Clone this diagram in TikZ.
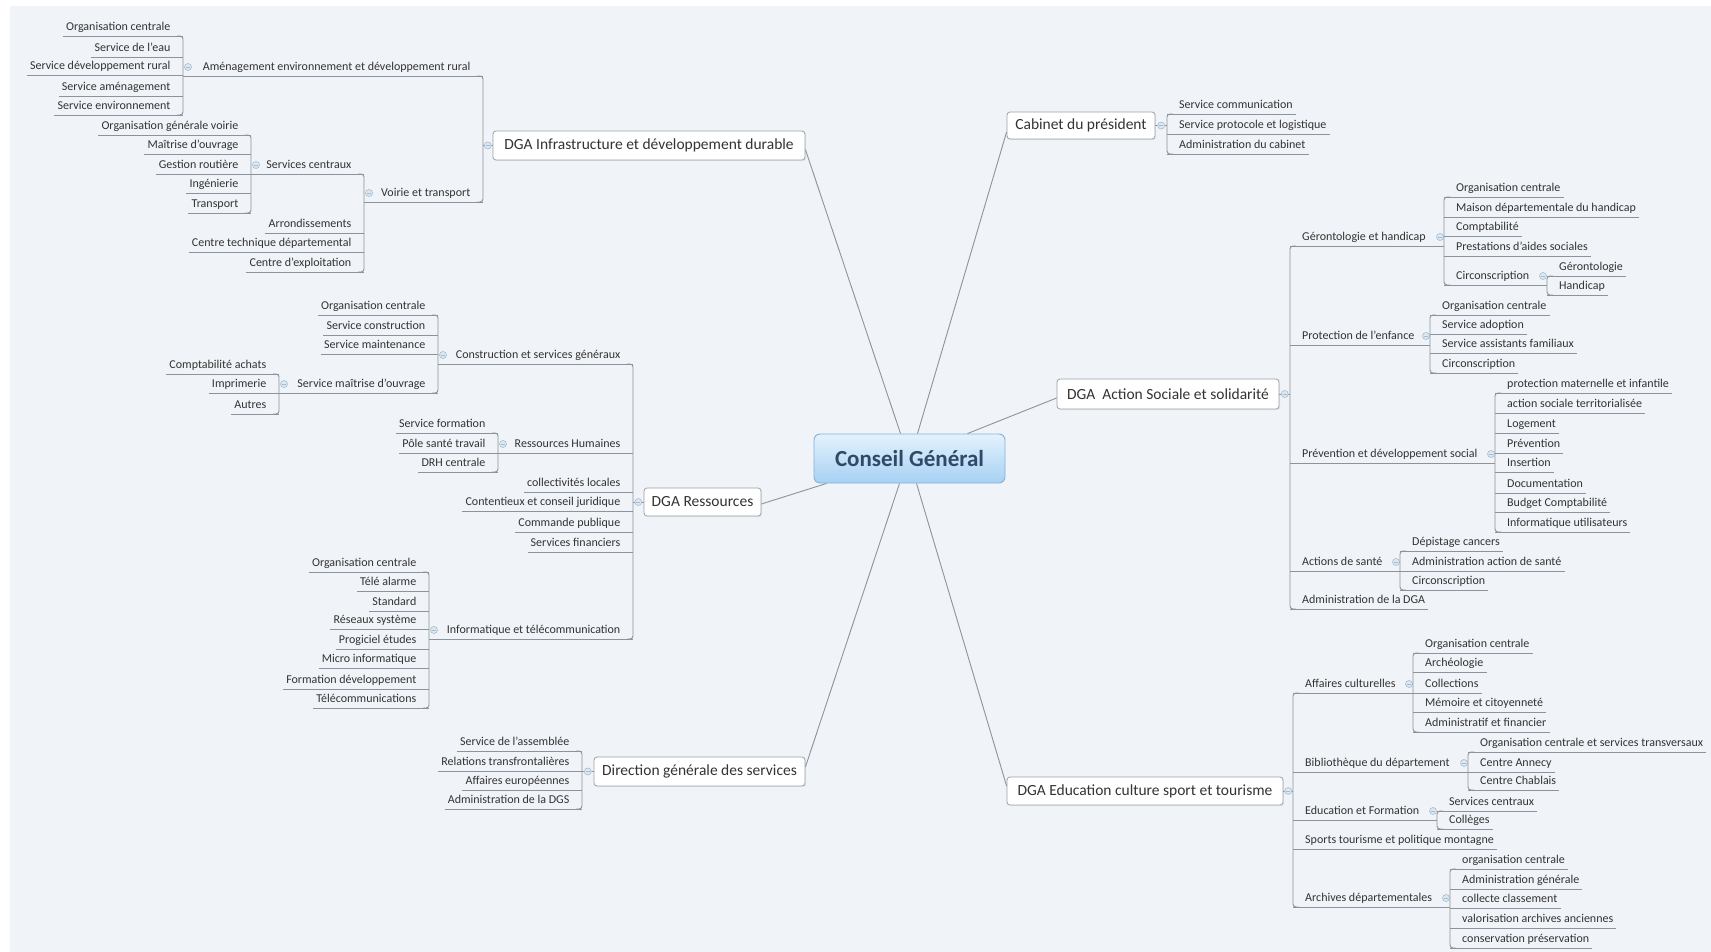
\documentclass[tikz,border=0pt]{standalone}
\usepackage{fontspec}
\setmainfont{Carlito}
\usetikzlibrary{calc,shadows}
\definecolor{canvas}{HTML}{F0F3F7}
\definecolor{branch}{HTML}{8C939A}
\definecolor{label}{HTML}{333333}
\definecolor{frame}{HTML}{9AA3AB}
\definecolor{foldline}{HTML}{A3BCD3}
\definecolor{foldfill}{HTML}{DDE8F2}
\definecolor{rootink}{HTML}{2E4A66}
\definecolor{roottop}{HTML}{E4F2FD}
\definecolor{rootbot}{HTML}{A6D1F3}
\definecolor{rootframe}{HTML}{82B1DA}
% vertical trunk joining the first and last child of a branch
\newcommand{\trunk}[4]{\draw[link,rounded corners=3pt]
  ($(#2.south -| #1)+(#4,0)$) -- (#2.south -| #1) -- (#3.south -| #1) -- ($(#3.south -| #1)+(#4,0)$);}

\begin{document}
\begin{tikzpicture}[x=1pt,y=-1pt,
 link/.style={draw=branch,line width=.9pt},
 sub/.style={font=\fontsize{12}{14}\selectfont,text=label,inner xsep=3pt,inner ysep=2.3pt,
   text height=9pt,text depth=3pt},
 lsub/.style={sub,anchor=south east},
 rsub/.style={sub,anchor=south west},
 mainbox/.style={draw=frame,fill=white,rounded corners=3pt,line width=.8pt,
   font=\fontsize{15.5}{18}\selectfont,text=label,inner sep=0pt,
   drop shadow={opacity=.12,shadow xshift=1.2pt,shadow yshift=-1.2pt}},
 root/.style={draw=rootframe,line width=.9pt,rounded corners=6pt,top color=roottop,
   bottom color=rootbot,minimum width=191pt,minimum height=49pt,
   font=\fontsize{23}{26}\selectfont\bfseries,text=rootink},
 fold/.style={circle,draw=foldline,fill=foldfill,line width=.6pt,inner sep=0pt,minimum size=7pt,
   path picture={\draw[foldline,line width=.8pt] ([xshift=-2pt]path picture bounding box.center)
     -- ([xshift=2pt]path picture bounding box.center);}}]
\path[use as bounding box] (0,0) rectangle (1711,952);
\fill[white] (0,0) rectangle (1711,952);
\fill[canvas] (10,6) rectangle (1711,952);

% central topic and the six main branches
\node[root] (cg) at (909.5,458.5) {Conseil Général};
\node[mainbox,minimum width=312pt,minimum height=29pt] (infra) at (649,145.5) {DGA Infrastructure et développement durable};
\node[mainbox,minimum width=117pt,minimum height=28pt] (res) at (702.5,502) {DGA Ressources};
\node[mainbox,minimum width=211pt,minimum height=29pt] (dgs) at (699.5,771.5) {Direction générale des services};
\node[mainbox,minimum width=148pt,minimum height=27pt] (cab) at (1081,125.5) {Cabinet du président};
\node[mainbox,minimum width=222pt,minimum height=30pt] (as) at (1168,394) {DGA\ \ Action Sociale et solidarité};
\node[mainbox,minimum width=276pt,minimum height=28pt] (edu) at (1145,791) {DGA Education culture sport et tourisme};
\draw[link] ([xshift=-9pt]cg.north) -- ([yshift=-4pt]infra.east);
\draw[link] ([xshift=8pt]cg.north) -- ([yshift=-6.5pt]cab.west);
\draw[link] ([xshift=-38pt]cg.north east) -- ([yshift=-4pt]as.west);
\draw[link] ([xshift=13pt]cg.south west) -- ([yshift=-2pt]res.east);
\draw[link] ([xshift=-10pt]cg.south) -- ([yshift=4.5pt]dgs.east);
\draw[link] ([xshift=7pt]cg.south) -- ([yshift=5pt]edu.west);

% ---- infrastructure (left)
\coordinate (infraV) at (483,0);
\coordinate (aedrV) at (183,0);
\coordinate (voirV) at (364,0);
\coordinate (scV) at (251,0);
\node[lsub] (aedr) at (473.5,76) {Aménagement environnement et développement rural};
\node[lsub] (voir) at (473.5,202) {Voirie et transport};
\node[lsub] (sc) at (354.5,174) {Services centraux};
\foreach \n/\y/\t in {aOrg/36/Organisation centrale,aEau/57/Service de l'eau,
  aRur/75/Service développement rural,aAme/96/Service aménagement,aEnv/115/Service environnement}{
  \node[lsub] (\n) at (173.5,\y) {\t};
  \draw[link] (\n.south west) -- (\n.south -| aedrV);}
\foreach \n/\y/\t in {tArr/233/Arrondissements,tCtd/252/Centre technique départemental,
  tCex/272/Centre d'exploitation}{
  \node[lsub] (\n) at (354.5,\y) {\t};
  \draw[link] (\n.south west) -- (\n.south -| voirV);}
\foreach \n/\y/\t in {sOgv/135/Organisation générale voirie,sMo/154/Maîtrise d'ouvrage,
  sGr/174/Gestion routière,sIng/193/Ingénierie,sTr/213/Transport}{
  \node[lsub] (\n) at (241.5,\y) {\t};
  \draw[link] (\n.south west) -- (\n.south -| scV);}
\draw[link] (aedr.south -| aedrV) -- (aedr.south -| infraV);
\draw[link] (voir.south -| voirV) -- (voir.south -| infraV);
\draw[link] (sc.south -| scV) -- (sc.south -| voirV);
\draw[link] (infra.west) -- (infra.west -| infraV);
\trunk{infraV}{aedr}{voir}{-6}
\trunk{aedrV}{aOrg}{aEnv}{-6}
\trunk{voirV}{sc}{tCex}{-6}
\trunk{scV}{sOgv}{sTr}{-6}
\node[fold] (fInfra) at ($(infra.west)!.5!(infra.west -| infraV)$) {};
\node[fold] (fAedr) at ($(aedr.south -| aedrV)+(5,-9)$) {};
\node[fold] (fVoir) at ($(voir.south -| voirV)+(5,-9)$) {};
\node[fold] (fSc) at ($(sc.south -| scV)+(5,-9)$) {};

% ---- ressources (left)
\coordinate (resV) at (633,0);
\coordinate (csgV) at (438,0);
\coordinate (smoV) at (279,0);
\coordinate (rhV) at (498,0);
\coordinate (itV) at (429,0);
\node[lsub] (csg) at (623.5,364) {Construction et services généraux};
\node[lsub] (rh) at (623.5,453) {Ressources Humaines};
\node[lsub] (it) at (623.5,639) {Informatique et télécommunication};
\node[lsub] (smo) at (428.5,393) {Service maîtrise d'ouvrage};
\foreach \n/\y/\t in {uLoc/492/collectivités locales,uCon/511/Contentieux et conseil juridique,
  uCom/532/Commande publique,uFin/552/Services financiers}{
  \node[lsub] (\n) at (623.5,\y) {\t};
  \draw[link] (\n.south west) -- (\n.south -| resV);}
\foreach \n/\y/\t in {oOrg/315/Organisation centrale,oCon/335/Service construction,
  oMai/354/Service maintenance}{
  \node[lsub] (\n) at (428.5,\y) {\t};
  \draw[link] (\n.south west) -- (\n.south -| csgV);}
\foreach \n/\y/\t in {mCpt/374/Comptabilité achats,mImp/393/Imprimerie,mAut/414/Autres}{
  \node[lsub] (\n) at (269.5,\y) {\t};
  \draw[link] (\n.south west) -- (\n.south -| smoV);}
\foreach \n/\y/\t in {wFor/433/Service formation,wPol/453/Pôle santé travail,wDrh/472/DRH centrale}{
  \node[lsub] (\n) at (488.5,\y) {\t};
  \draw[link] (\n.south west) -- (\n.south -| rhV);}
\foreach \n/\y/\t in {iOrg/572/Organisation centrale,iTel/591/Télé alarme,iSta/611/Standard,
  iRes/629/Réseaux système,iPro/649/Progiciel études,iMic/668/Micro informatique,
  iFor/689/Formation développement,iCom/708/Télécommunications}{
  \node[lsub] (\n) at (419.5,\y) {\t};
  \draw[link] (\n.south west) -- (\n.south -| itV);}
\draw[link] (csg.south -| csgV) -- (csg.south -| resV);
\draw[link] (rh.south -| rhV) -- (rh.south -| resV);
\draw[link] (it.south -| itV) -- (it.south -| resV);
\draw[link] (smo.south -| smoV) -- (smo.south -| csgV);
\draw[link] (res.west) -- (res.west -| resV);
\trunk{resV}{csg}{it}{-6}
\trunk{csgV}{oOrg}{smo}{-6}
\trunk{smoV}{mCpt}{mAut}{-6}
\trunk{rhV}{wFor}{wDrh}{-6}
\trunk{itV}{iOrg}{iCom}{-6}
\node[fold] (fRes) at ($(res.west)!.5!(res.west -| resV)$) {};
\node[fold] (fCsg) at ($(csg.south -| csgV)+(5,-9)$) {};
\node[fold] (fRh) at ($(rh.south -| rhV)+(5,-9)$) {};
\node[fold] (fIt) at ($(it.south -| itV)+(5,-9)$) {};
\node[fold] (fSmo) at ($(smo.south -| smoV)+(5,-9)$) {};

% ---- direction generale des services (left)
\coordinate (dgsV) at (582,0);
\foreach \n/\y/\t in {dAss/751/Service de l'assemblée,dRel/771/Relations transfrontalières,
  dEur/790/Affaires européennes,dAdm/809/Administration de la DGS}{
  \node[lsub] (\n) at (572.5,\y) {\t};
  \draw[link] (\n.south west) -- (\n.south -| dgsV);}
\draw[link] (dgs.west) -- (dgs.west -| dgsV);
\trunk{dgsV}{dAss}{dAdm}{-6}
\node[fold] (fDgs) at ($(dgs.west)!.5!(dgs.west -| dgsV)$) {};

% ---- cabinet (right)
\coordinate (cabV) at (1167,0);
\foreach \n/\y/\t in {cCom/114/Service communication,cPro/134/Service protocole et logistique,
  cAdm/154/Administration du cabinet}{
  \node[rsub] (\n) at (1176,\y) {\t};
  \draw[link] (\n.south -| cabV) -- (\n.south east);}
\draw[link] (cab.east) -- (cab.east -| cabV);
\trunk{cabV}{cCom}{cAdm}{6}
\node[fold] (fCab) at ($(cab.east)!.5!(cab.east -| cabV)$) {};

% ---- action sociale (right)
\coordinate (asV) at (1290,0);
\coordinate (gerV) at (1444,0);
\coordinate (circV) at (1547,0);
\coordinate (protV) at (1430,0);
\coordinate (prevV) at (1495,0);
\coordinate (santeV) at (1400,0);
\node[rsub] (ger) at (1299,246) {Gérontologie et handicap};
\node[rsub] (prot) at (1299,345) {Protection de l'enfance};
\node[rsub] (prev) at (1299,463) {Prévention et développement social};
\node[rsub] (sante) at (1299,571) {Actions de santé};
\node[rsub] (admDga) at (1299,609) {Administration de la DGA};
\node[rsub] (circ) at (1453,285) {Circonscription};
\draw[link] (admDga.south -| asV) -- (admDga.south east);
\foreach \n/\m in {ger/gerV,prot/protV,prev/prevV,sante/santeV}{
  \draw[link] (\n.south -| asV) -- (\n.south -| \m);
  \node[fold] (f\n) at ($(\n.south -| \m)+(-4,-9)$) {};}
\draw[link] (circ.south -| gerV) -- (circ.south -| circV);
\node[fold] (fCirc) at ($(circ.south -| circV)+(-4,-9)$) {};
\foreach \n/\y/\t in {gOrg/197/Organisation centrale,gMdh/217/Maison départementale du handicap,
  gCpt/236/Comptabilité,gPas/256/Prestations d'aides sociales}{
  \node[rsub] (\n) at (1453,\y) {\t};
  \draw[link] (\n.south -| gerV) -- (\n.south east);}
\foreach \n/\y/\t in {nGer/276/Gérontologie,nHan/295/Handicap}{
  \node[rsub] (\n) at (1556,\y) {\t};
  \draw[link] (\n.south -| circV) -- (\n.south east);}
\foreach \n/\y/\t in {pOrg/315/Organisation centrale,pAdo/334/Service adoption,
  pAss/353/Service assistants familiaux,pCir/373/Circonscription}{
  \node[rsub] (\n) at (1439,\y) {\t};
  \draw[link] (\n.south -| protV) -- (\n.south east);}
\foreach \n/\y/\t in {vPmi/393/protection maternelle et infantile,vAst/413/action sociale territorialisée,
  vLog/433/Logement,vPre/453/Prévention,vIns/472/Insertion,vDoc/493/Documentation,
  vBud/512/Budget Comptabilité,vInf/532/Informatique utilisateurs}{
  \node[rsub] (\n) at (1504,\y) {\t};
  \draw[link] (\n.south -| prevV) -- (\n.south east);}
\foreach \n/\y/\t in {hDep/551/Dépistage cancers,hAdm/571/Administration action de santé,
  hCir/590/Circonscription}{
  \node[rsub] (\n) at (1409,\y) {\t};
  \draw[link] (\n.south -| santeV) -- (\n.south east);}
\draw[link] (as.east) -- (as.east -| asV);
\trunk{asV}{ger}{admDga}{6}
\trunk{gerV}{gOrg}{circ}{6}
\trunk{circV}{nGer}{nHan}{6}
\trunk{protV}{pOrg}{pCir}{6}
\trunk{prevV}{vPmi}{vInf}{6}
\trunk{santeV}{hDep}{hCir}{6}
\node[fold] (fAs) at ($(as.east)!.5!(as.east -| asV)$) {};

% ---- education culture sport et tourisme (right)
\coordinate (eduV) at (1293,0);
\coordinate (cultV) at (1413,0);
\coordinate (bibV) at (1468,0);
\coordinate (efV) at (1437,0);
\coordinate (archV) at (1450,0);
\node[rsub] (cult) at (1302,693) {Affaires culturelles};
\node[rsub] (bib) at (1302,772) {Bibliothèque du département};
\node[rsub] (ef) at (1302,820) {Education et Formation};
\node[rsub] (sports) at (1302,849) {Sports tourisme et politique montagne};
\node[rsub] (arch) at (1302,907) {Archives départementales};
\draw[link] (sports.south -| eduV) -- (sports.south east);
\foreach \n/\m in {cult/cultV,bib/bibV,ef/efV,arch/archV}{
  \draw[link] (\n.south -| eduV) -- (\n.south -| \m);
  \node[fold] (f\n) at ($(\n.south -| \m)+(-4,-9)$) {};}
\foreach \n/\y/\t in {kOrg/653/Organisation centrale,kArc/672/Archéologie,kCol/693/Collections,
  kMem/712/Mémoire et citoyenneté,kAdm/732/Administratif et financier}{
  \node[rsub] (\n) at (1422,\y) {\t};
  \draw[link] (\n.south -| cultV) -- (\n.south east);}
\foreach \n/\y/\t in {bOrg/752/Organisation centrale et services transversaux,
  bAnn/772/Centre Annecy,bCha/790/Centre Chablais}{
  \node[rsub] (\n) at (1477,\y) {\t};
  \draw[link] (\n.south -| bibV) -- (\n.south east);}
\foreach \n/\y/\t in {eSc/811/Services centraux,eCol/829/Collèges}{
  \node[rsub] (\n) at (1446,\y) {\t};
  \draw[link] (\n.south -| efV) -- (\n.south east);}
\foreach \n/\y/\t in {rOrg/869/organisation centrale,rAdm/889/Administration générale,
  rCol/908/collecte classement,rVal/928/valorisation archives anciennes,
  rCon/948/conservation préservation}{
  \node[rsub] (\n) at (1459,\y) {\t};
  \draw[link] (\n.south -| archV) -- (\n.south east);}
\draw[link] (edu.east) -- (edu.east -| eduV);
\trunk{eduV}{cult}{arch}{6}
\trunk{cultV}{kOrg}{kAdm}{6}
\trunk{bibV}{bOrg}{bCha}{6}
\trunk{efV}{eSc}{eCol}{6}
\trunk{archV}{rOrg}{rCon}{6}
\node[fold] (fEdu) at ($(edu.east)!.5!(edu.east -| eduV)$) {};
\end{tikzpicture}
\end{document}
